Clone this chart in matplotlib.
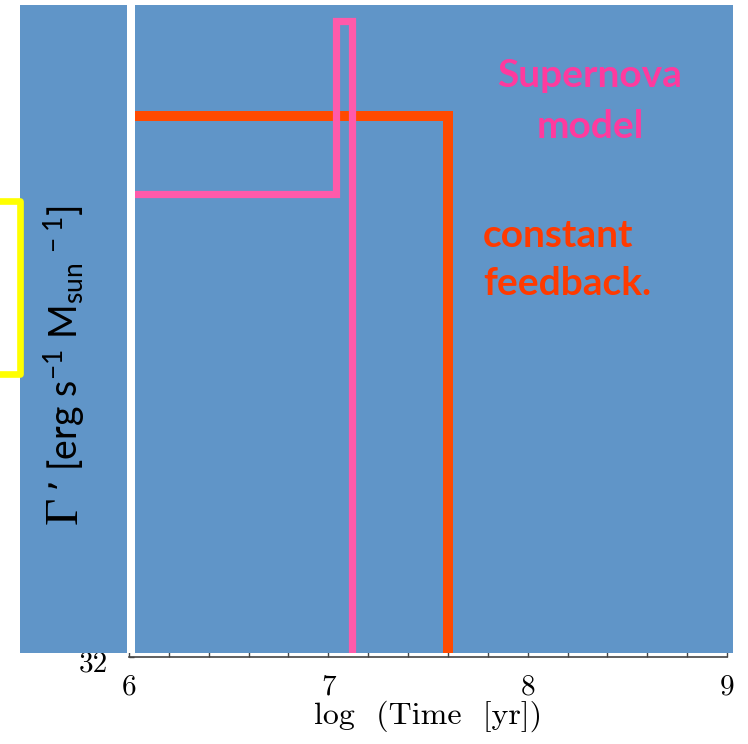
import matplotlib
matplotlib.use("Agg")
import matplotlib.pyplot as plt
from matplotlib.patches import Rectangle
from matplotlib.lines import Line2D
from matplotlib.ticker import MultipleLocator
from matplotlib.transforms import ScaledTranslation

plt.rcParams["mathtext.default"] = "regular"

# Feedback histories: log(time) breakpoints and log(Gamma') levels
const_time = [6.0, 7.6, 7.6]
const_gamma = [35.32, 35.32, 32.0]
sn_time = [6.0, 7.04, 7.04, 7.12, 7.12]
sn_gamma = [34.84, 34.84, 35.90, 35.90, 32.0]

x_ticks = [6, 7, 8, 9]
x_tick_labels = ["6", "7", "8", "9"]
y_ticks = [32]
y_tick_labels = ["32"]

W, H = 748, 744
fig = plt.figure(figsize=(W / 100, H / 100), dpi=100)


def fx(px):
    return px / W


def fy(py):
    return 1 - py / H


BLUE = "#6095C8"
ORANGE_LINE = "#FF4A00"
ORANGE_TEXT = "#FF3A00"
PINK_LINE = "#FF5AAA"
PINK_TEXT = "#FF3A9E"

# axes frame in pixels
L, R, T, B = 129, 727, 5, 657
rect = [fx(L), fy(B), (R - L) / W, (B - T) / H]

# base axes: ticks, tick labels, x label
ax = fig.add_axes(rect, zorder=0)
ax.set_facecolor("none")
ax.set_xlim(6, 9)
ax.set_ylim(32, 36)
for s in ("top", "right", "left"):
    ax.spines[s].set_visible(False)
ax.spines["bottom"].set_color("#444444")
ax.spines["bottom"].set_linewidth(1.2)
ax.set_xticks(x_ticks)
ax.set_xticklabels(x_tick_labels, fontfamily="cmr10", fontsize=21)
ax.xaxis.set_minor_locator(MultipleLocator(0.2))
ax.set_yticks(y_ticks)
ax.set_yticklabels(y_tick_labels, fontfamily="cmr10", fontsize=21)
ax.tick_params(axis="both", which="both", direction="in", length=3.5,
               width=1.0, color="#444444", top=False, right=False)
ax.tick_params(axis="x", pad=12)
ax.tick_params(axis="y", pad=15)
# nudge the y tick label slightly downward
shift = ScaledTranslation(0, -4 / 100, fig.dpi_scale_trans)
for lbl in ax.get_yticklabels():
    lbl.set_transform(lbl.get_transform() + shift)
ax.set_xlabel("log  (Time  [yr])", fontfamily="cmr10", fontsize=23,
              labelpad=0)

# blue panel over the plot area
panel = Rectangle((fx(20), fy(653)), fx(733) - fx(20), fy(5) - fy(653),
                  transform=fig.transFigure, facecolor=BLUE, edgecolor="none",
                  zorder=1)
fig.patches.append(panel)

# overlay axes carrying the feedback curves
ov = fig.add_axes(rect, zorder=2, sharex=ax, sharey=ax)
ov.set_facecolor("none")
ov.axis("off")
l1, = ov.plot(const_time, const_gamma, color=ORANGE_LINE, lw=7.2,
              solid_capstyle="butt", solid_joinstyle="miter")
l2, = ov.plot(sn_time, sn_gamma, color=PINK_LINE, lw=5.2,
              solid_capstyle="butt", solid_joinstyle="miter")
for ln in (l1, l2):
    ln.set_clip_path(panel)

# white separator strip
fig.patches.append(Rectangle((fx(127), fy(653)), fx(135) - fx(127),
                             fy(5) - fy(653), transform=fig.transFigure,
                             facecolor="white", edgecolor="none", zorder=3))

# yellow bracket
fig.lines.append(Line2D([fx(0), fx(20), fx(20), fx(0)],
                        [fy(201), fy(201), fy(374), fy(374)],
                        transform=fig.transFigure, color="#FFFF00", lw=4.8,
                        solid_joinstyle="round", zorder=4))

# y label
fig.text(fx(77), fy(524), "Γ", family="Liberation Serif", fontsize=34,
         rotation=90, rotation_mode="anchor", ha="left", va="baseline",
         zorder=5)
fig.text(fx(78), fy(492), "’ [erg s$^{-1}$ M$_{sun}$$^{\\,-1}$]",
         family="Lato", fontsize=27, rotation=90, rotation_mode="anchor",
         ha="left", va="baseline", zorder=5)

# annotations
fig.text(fx(590), fy(87), "Supernova", family="Lato", weight="bold",
         fontsize=28, color=PINK_TEXT, ha="center", va="baseline", zorder=5)
fig.text(fx(590), fy(138), "model", family="Lato", weight="bold",
         fontsize=28, color=PINK_TEXT, ha="center", va="baseline", zorder=5)
fig.text(fx(483), fy(247), "constant", family="Lato", weight="bold",
         fontsize=28, color=ORANGE_TEXT, ha="left", va="baseline", zorder=5)
fig.text(fx(483), fy(295), "feedback.", family="Lato", weight="bold",
         fontsize=28, color=ORANGE_TEXT, ha="left", va="baseline", zorder=5)

fig.savefig("out.png", dpi=100)
